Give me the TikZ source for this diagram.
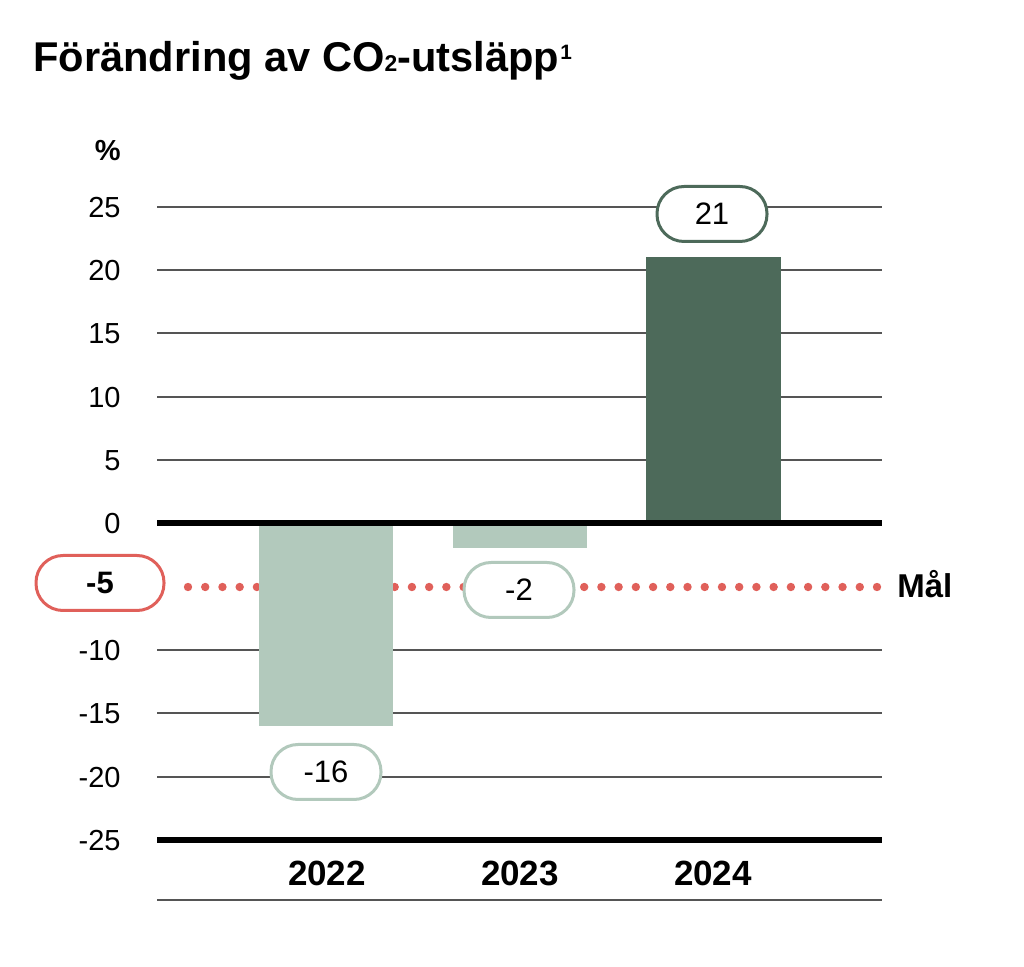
\documentclass[tikz,border=0pt]{standalone}
\usepackage{fontspec}
\setmainfont{Liberation Sans}
\usepackage{graphicx}
\definecolor{darkg}{HTML}{4D6A5A}
\definecolor{lightg}{HTML}{B2C9BC}
\definecolor{goalred}{HTML}{E0605A}
\definecolor{gridc}{HTML}{555555}
\begin{document}
\begin{tikzpicture}[x=0.5pt,y=-0.5pt,
  gridline/.style={draw=gridc,line width=0.75pt},
  axisline/.style={draw=black,line width=2.6pt},
  ticklab/.style={anchor=base east,inner sep=0pt,font=\fontsize{14.5}{16}\selectfont},
  yearlab/.style={anchor=base,inner sep=0pt,font=\bfseries\fontsize{17.5}{19}\selectfont},
  pill/.style={draw,fill=white,line width=1.5pt,rounded corners=13.5pt,minimum width=55pt,minimum height=27.5pt,inner sep=0pt,font=\fontsize{15.5}{17}\selectfont},
  goal/.style={draw=goalred,line width=4.2pt,line cap=round,dash pattern=on 0pt off 8.6125pt},
  barlight/.style={fill=lightg},
  bardark/.style={fill=darkg}]
\useasboundingbox (0,0) rectangle (1024,967);
% title
\node[anchor=base west,inner sep=0pt,font=\bfseries\fontsize{20.8}{24}\selectfont] (title) at (33,72)
  {Förändring av CO\scalebox{0.55}{2}-utsläpp\hspace{0.03em}\raisebox{0.3em}{\scalebox{0.5}{1}}};
\node[anchor=base east,inner sep=0pt,font=\bfseries\fontsize{14.5}{16}\selectfont] (pct) at (121,161) {\%};
% gridlines
\foreach \v/\y in {25/207,20/270,15/333,10/397,5/460,-10/650,-15/713,-20/777}{
  \draw[gridline] (157,\y) -- (882,\y);
}
\foreach \v/\y in {25/207,20/270,15/333,10/397,5/460,0/523,-10/650,-15/713,-20/777,-25/840}{
  \node[ticklab] (t\v) at (121,\y+11) {\v};
}
\draw[gridline] (157,900) -- (882,900);
% goal line
\coordinate (gstart) at (188,587);
\coordinate (gend) at (877,587);
\draw[goal] (gstart) -- (gend);
% bars
\fill[barlight] (259,523) rectangle (393,726);
\fill[barlight] (453,523) rectangle (587,548);
\fill[bardark] (646,257) rectangle (781,523);
% axes
\draw[axisline] (157,523) -- (882,523);
\draw[axisline] (157,840) -- (882,840);
% years
\node[yearlab] (y22) at (327,886) {2022};
\node[yearlab] (y23) at (520,886) {2023};
\node[yearlab] (y24) at (713,886) {2024};
% pills
\node[pill,draw=darkg] (p21) at (712,214) {21};
\node[pill,draw=lightg] (p2) at (519,590) {-2};
\node[pill,draw=lightg] (p16) at (326,772) {-16};
\node[pill,draw=goalred,minimum width=64pt,font=\bfseries\fontsize{15.5}{17}\selectfont] (p5) at (100,583) {-5};
\node[anchor=base west,inner sep=0pt,font=\bfseries\fontsize{16.5}{18}\selectfont] (mal) at (897,598) {Mål};
\end{tikzpicture}
\end{document}
